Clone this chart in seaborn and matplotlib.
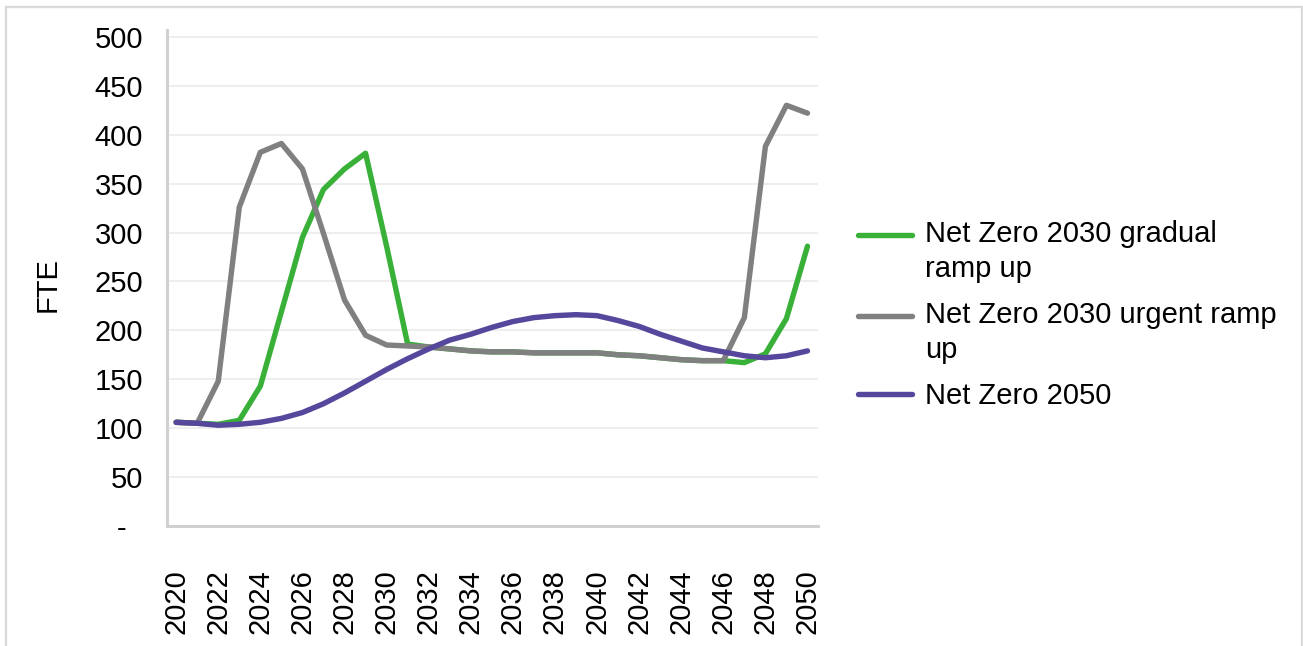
import matplotlib
matplotlib.use("Agg")
import matplotlib.pyplot as plt
from matplotlib.patches import Rectangle
from matplotlib.legend_handler import HandlerLine2D
import numpy as np
import pandas as pd
import seaborn as sns

# Annual FTE demand by scenario
years = list(range(2020, 2051))

gradual = [106, 105, 104, 108, 143, 219, 295, 344, 365, 381, 286, 186,
           183, 181, 179, 178, 178, 177, 177, 177, 177, 175, 174, 172,
           170, 169, 169, 167, 176, 212, 286]

urgent = [106, 105, 148, 326, 382, 391, 365, 299, 231, 195, 185, 184,
          183, 181, 179, 178, 178, 177, 177, 177, 177, 175, 174, 172,
          170, 169, 169, 213, 388, 430, 422]

net_zero_2050 = [106, 105, 103, 104, 106, 110, 116, 125, 136, 148, 160, 171,
                 181, 190, 196, 203, 209, 213, 215, 216, 215, 210, 204, 196,
                 189, 182, 178, 174, 172, 174, 179]

series_names = ["Net Zero 2030 gradual ramp up",
                "Net Zero 2030 urgent ramp up",
                "Net Zero 2050"]
legend_labels = ["Net Zero 2030 gradual\nramp up",
                 "Net Zero 2030 urgent ramp\nup",
                 "Net Zero 2050"]
colors = ["#39B139", "#808080", "#56479C"]

y_ticks = [0, 50, 100, 150, 200, 250, 300, 350, 400, 450, 500]
y_tick_labels = ["-  ", "50", "100", "150", "200", "250", "300", "350",
                 "400", "450", "500"]
x_ticks = list(range(2020, 2051, 2))

df = pd.DataFrame({
    "year": years * 3,
    "FTE": gradual + urgent + net_zero_2050,
    "scenario": ([series_names[0]] * len(years) + [series_names[1]] * len(years)
                 + [series_names[2]] * len(years)),
})

sns.set_theme(style="white")
plt.rcParams["font.family"] = ["Liberation Sans", "DejaVu Sans"]
plt.rcParams["text.color"] = "black"

FS = 21

W, H = 1303, 646
fig = plt.figure(figsize=(W / 100, H / 100), dpi=100)
fig.patch.set_facecolor("white")

# plot area in pixel terms
left, right, top, bottom = 166.7, 818, 30, 526
ax = fig.add_axes([left / W, (H - bottom) / H, (right - left) / W, (bottom - top) / H])

sns.lineplot(data=df, x="year", y="FTE", hue="scenario", hue_order=series_names,
             palette=colors, linewidth=3.9, legend=False, ax=ax,
             solid_capstyle="round", solid_joinstyle="round")

ax.set_xlim(2019.55, 2050.5)
ax.set_ylim(0, 507)
ax.set_yticks(y_ticks)
ax.set_yticklabels(y_tick_labels)
ax.set_xticks(x_ticks)
ax.set_xticklabels([str(y) for y in x_ticks], rotation=90)
ax.tick_params(axis="both", length=0, labelsize=FS, colors="black")
ax.tick_params(axis="y", pad=17)
ax.tick_params(axis="x", pad=31)
for lab in ax.get_xticklabels():
    lab.set_va("top")

ax.grid(axis="y", color="#EBEBEB", linewidth=1.2)
ax.grid(axis="x", visible=False)
ax.set_axisbelow(True)
for side in ["top", "right"]:
    ax.spines[side].set_visible(False)
for side in ["left", "bottom"]:
    ax.spines[side].set_color("#D0D0D0")
    ax.spines[side].set_linewidth(2.2)

ax.set_xlabel("")
ax.set_ylabel("FTE", fontsize=FS, color="black")
ax.yaxis.set_label_coords(-0.161, 0.486)


class TopLineHandler(HandlerLine2D):
    """Place the legend line at the first text row of a wrapped label."""

    def __init__(self, shift=0.0, **kw):
        super().__init__(**kw)
        self.shift = shift

    def create_artists(self, legend, orig_handle, xdescent, ydescent, width,
                       height, fontsize, trans):
        artists = super().create_artists(legend, orig_handle, xdescent,
                                         ydescent, width, height, fontsize, trans)
        for a in artists:
            y = np.asarray(a.get_ydata(), dtype=float)
            a.set_ydata(y + self.shift)
        return artists


lines = ax.get_lines()[:3]
handler_map = {lines[0]: TopLineHandler(shift=12.6),
               lines[1]: TopLineHandler(shift=12.6)}
leg = ax.legend(lines, legend_labels, loc="upper left",
                bbox_to_anchor=(858 / W, 1 - 220 / H),
                bbox_transform=fig.transFigure, frameon=False,
                fontsize=FS, handlelength=1.85, handletextpad=0.45,
                labelspacing=0.6, borderpad=0, borderaxespad=0,
                handler_map=handler_map)
for t in leg.get_texts():
    t.set_linespacing(1.34)
    t.set_color("black")

# outer chart border
fig.patches.append(Rectangle((6 / W, -0.05), (1302 - 6) / W, 1.05 - 7 / H,
                             transform=fig.transFigure, fill=False,
                             edgecolor="#D9D9D9", linewidth=1.6, zorder=0))

fig.savefig("out.png", dpi=100, facecolor="white")
